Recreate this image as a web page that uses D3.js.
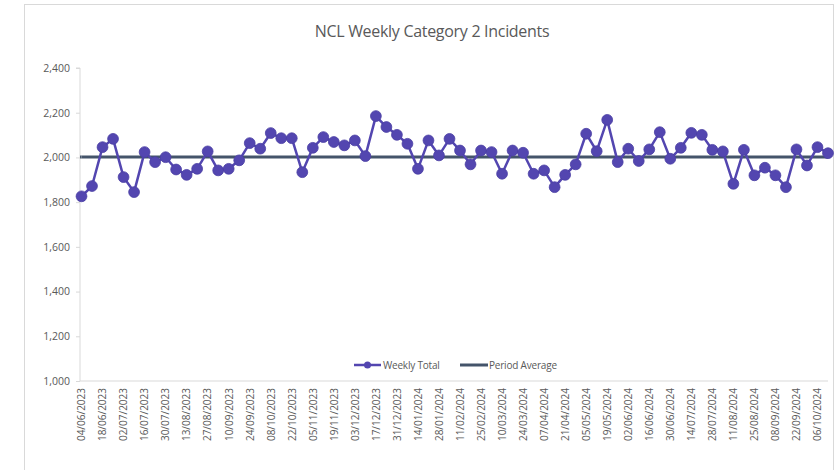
<!DOCTYPE html>
<html><head><meta charset="utf-8">
<script src="https://cdn.jsdelivr.net/npm/d3@7"></script>
<style>
html,body{margin:0;padding:0;background:#fff;}
svg{display:block;}
</style></head>
<body>
<svg id="chart" width="835" height="470"></svg>
<script>
const chartTitle = "NCL Weekly Category 2 Incidents";
const weekStart = "04/06/2023";
const weeklyTotal = [
  1826,1872,2046,2083,1912,1845,2024,1979,2001,1946,
  1922,1949,2027,1942,1949,1987,2064,2039,2109,2086,
  2086,1934,2043,2091,2069,2054,2076,2006,2185,2136,
  2101,2061,1949,2076,2009,2083,2031,1969,2031,2024,
  1927,2031,2021,1927,1942,1867,1922,1969,2106,2028,
  2168,1979,2039,1984,2036,2113,1994,2043,2110,2101,
  2034,2027,1882,2034,1920,1954,1920,1867,2036,1964,
  2046,2019
];
const periodAverageValue = 2002;
const yTicks = [1000,1200,1400,1600,1800,2000,2200,2400];
const seriesNames = ["Weekly Total","Period Average"];

(function(){
const parse = d3.timeParse("%d/%m/%Y");
const fmt = d3.timeFormat("%d/%m/%Y");
const start = parse(weekStart);
const weeks = weeklyTotal.map((v,i)=>fmt(d3.timeDay.offset(start, i*7)));
const periodAverage = weeks.map(()=>periodAverageValue);

const svg = d3.select("#chart");
const font = "'Open Sans', 'Noto Sans', sans-serif";

svg.append("rect").attr("x",24.5).attr("y",4.5).attr("width",809).attr("height",470)
  .attr("fill","#fff").attr("stroke","#d9d9d9").attr("stroke-width",1);

const pl=80, pr=828, pt=68, pb=381;
const x = d3.scalePoint().domain(weeks).range([pl+1.5,pr]);
const y = d3.scaleLinear().domain([1000,2400]).range([pb,pt]);

svg.append("text").attr("x",432).attr("y",37).attr("text-anchor","middle")
  .attr("font-family",font).attr("font-size",16).attr("fill","#595959")
  .style("letter-spacing","-0.3px").text(chartTitle);

const yAxis = svg.append("g").attr("transform",`translate(${pl},0)`)
  .call(d3.axisLeft(y).tickValues(yTicks).tickSize(4).tickPadding(6).tickFormat(d3.format(",")));
yAxis.select(".domain").attr("stroke","#d9d9d9").attr("d",`M-4,${pt}H0V${pb}`);
yAxis.selectAll(".tick line").attr("stroke","#d9d9d9");
yAxis.selectAll("text").attr("font-family",font).attr("font-size",10.5).attr("fill","#595959");

const xAxis = svg.append("g").attr("transform",`translate(0,${pb})`)
  .call(d3.axisBottom(x).tickValues(weeks.filter((d,i)=>i%2===0)).tickSize(0).tickPadding(0));
xAxis.select(".domain").attr("stroke","#d9d9d9").attr("d",`M${pl},0H${pr}`);
xAxis.selectAll("text").attr("font-family",font).attr("font-size",10).attr("fill","#595959")
  .attr("transform","rotate(-90)").attr("text-anchor","end").attr("dx","-7").attr("dy","0.33em")
  .attr("x",0).attr("y",0);

const purple = "#5346b0";
const avgCol = "#44546a";
svg.append("path").datum(periodAverage)
  .attr("d", d3.line().x((d,i)=>x(weeks[i])).y(d=>y(d)))
  .attr("fill","none").attr("stroke",avgCol).attr("stroke-width",3);
svg.append("line").attr("x1",pl).attr("x2",x(weeks[0]))
  .attr("y1",y(periodAverageValue)).attr("y2",y(periodAverageValue))
  .attr("stroke",avgCol).attr("stroke-width",3);

svg.append("path").datum(weeklyTotal)
  .attr("d", d3.line().x((d,i)=>x(weeks[i])).y(d=>y(d)))
  .attr("fill","none").attr("stroke",purple).attr("stroke-width",2.5).attr("stroke-linejoin","round");
svg.append("g").selectAll("circle").data(weeklyTotal).join("circle")
  .attr("cx",(d,i)=>x(weeks[i])).attr("cy",d=>y(d)).attr("r",5.4)
  .attr("fill",purple).attr("stroke","#4a3fa3").attr("stroke-width",0.8);

const lg = svg.append("g").attr("font-family",font).attr("font-size",10).attr("fill","#595959")
  .style("letter-spacing","-0.2px");
lg.append("line").attr("x1",354).attr("x2",381).attr("y1",365).attr("y2",365).attr("stroke",purple).attr("stroke-width",2.5);
lg.append("circle").attr("cx",367.5).attr("cy",365).attr("r",3.5).attr("fill",purple);
lg.append("text").attr("x",383).attr("y",368.5).text(seriesNames[0]);
lg.append("line").attr("x1",460).attr("x2",488).attr("y1",365).attr("y2",365).attr("stroke",avgCol).attr("stroke-width",3);
lg.append("text").attr("x",489).attr("y",368.5).text(seriesNames[1]);
})();
</script>
</body></html>
